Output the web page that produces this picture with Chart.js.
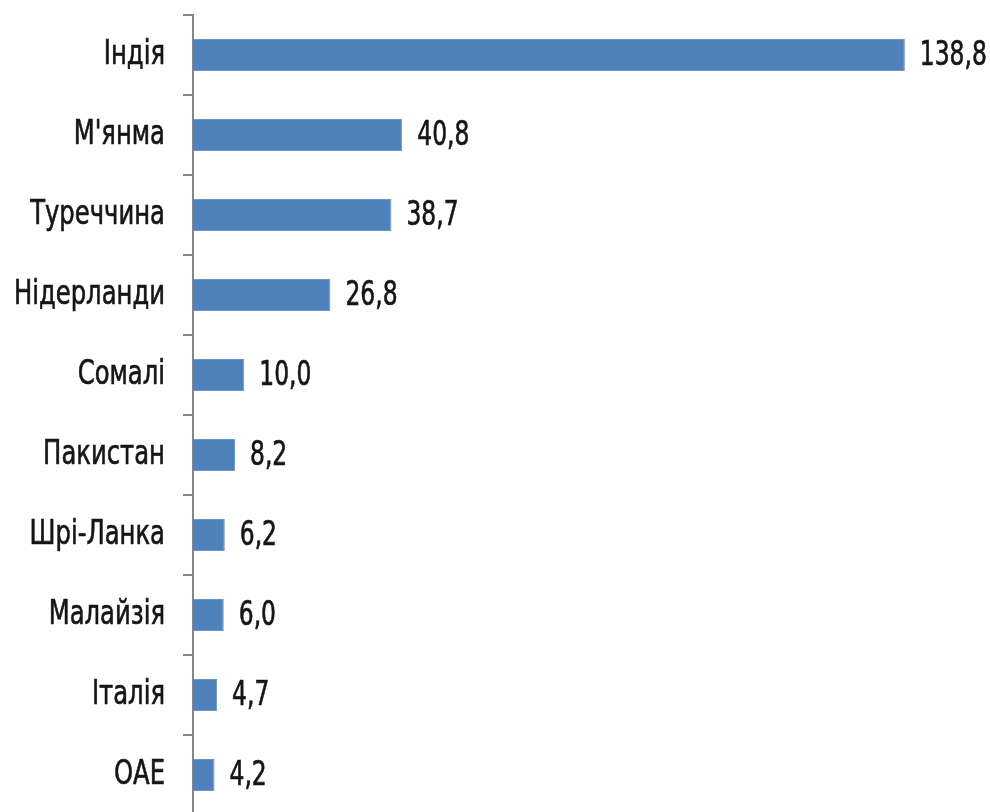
<!DOCTYPE html>
<html>
<head>
<meta charset="utf-8">
<script src="https://cdn.jsdelivr.net/npm/chart.js@4"></script>
<style>
html, body { margin: 0; padding: 0; background: #fff; overflow: hidden; }
#wrap { position: relative; width: 990px; height: 830px; }
</style>
</head>
<body>
<div id="wrap"><canvas id="barChart"></canvas></div>
<script>
var countries = ["Індія", "М'янма", "Туреччина", "Нідерланди", "Сомалі", "Пакистан", "Шрі-Ланка", "Малайзія", "Італія", "ОАЕ"];
var values = [138.8, 40.8, 38.7, 26.8, 10.0, 8.2, 6.2, 6.0, 4.7, 4.2];

var fontFam = "'Liberation Sans Narrow', 'DejaVu Sans Condensed', 'Liberation Sans', sans-serif";
var stretchY = 1.27; // reference text is tall and narrow

function tallText(ctx, txt, x, y) {
  ctx.save();
  ctx.translate(x, y);
  ctx.scale(1, stretchY);
  ctx.fillText(txt, 0, 0);
  ctx.strokeText(txt, 0, 0);
  ctx.restore();
}

// category names + value labels, drawn a bit stretched vertically
var textLayer = {
  id: 'textLayer',
  afterDatasetsDraw: function (chart) {
    var ctx = chart.ctx;
    var yScale = chart.scales.y;
    var meta = chart.getDatasetMeta(0);
    ctx.save();
    ctx.fillStyle = "#151515";
    ctx.strokeStyle = "#151515";
    ctx.lineWidth = 0.5;
    ctx.textBaseline = "middle";
    ctx.font = "27px " + fontFam;
    ctx.textAlign = "right";
    countries.forEach(function (name, i) {
      tallText(ctx, name, yScale.right - 28, yScale.getPixelForTick(i));
    });
    ctx.font = "26px " + fontFam;
    ctx.textAlign = "left";
    meta.data.forEach(function (bar, i) {
      var txt = values[i].toFixed(1).replace(".", ",");
      tallText(ctx, txt, bar.x + 15, bar.y + 1);
    });
    ctx.restore();
  }
};

var ctx = document.getElementById("barChart");
var chart = new Chart(ctx, {
  type: 'bar',
  data: {
    labels: countries,
    datasets: [{
      data: values,
      backgroundColor: "#4f81bd",
      borderColor: "#6a96cc",
      borderWidth: 1,
      borderSkipped: 'left',
      categoryPercentage: 0.8,
      barPercentage: 0.5
    }]
  },
  plugins: [textLayer],
  options: {
    indexAxis: 'y',
    responsive: true,
    maintainAspectRatio: false,
    animation: false,
    layout: { padding: { top: 15, bottom: 15, left: 0, right: 0 } },
    plugins: {
      legend: { display: false },
      tooltip: { enabled: false }
    },
    scales: {
      x: {
        display: false,
        min: 0,
        max: 155.4
      },
      y: {
        afterFit: function (scale) {
          scale.width = 193;
          scale.paddingTop = 0;
          scale.paddingBottom = 0;
        },
        border: { color: "#868686", width: 2 },
        grid: {
          drawOnChartArea: false,
          offset: true,
          color: "#868686",
          lineWidth: 2,
          tickLength: 10
        },
        ticks: { display: false }
      }
    }
  }
});
</script>
</body>
</html>
